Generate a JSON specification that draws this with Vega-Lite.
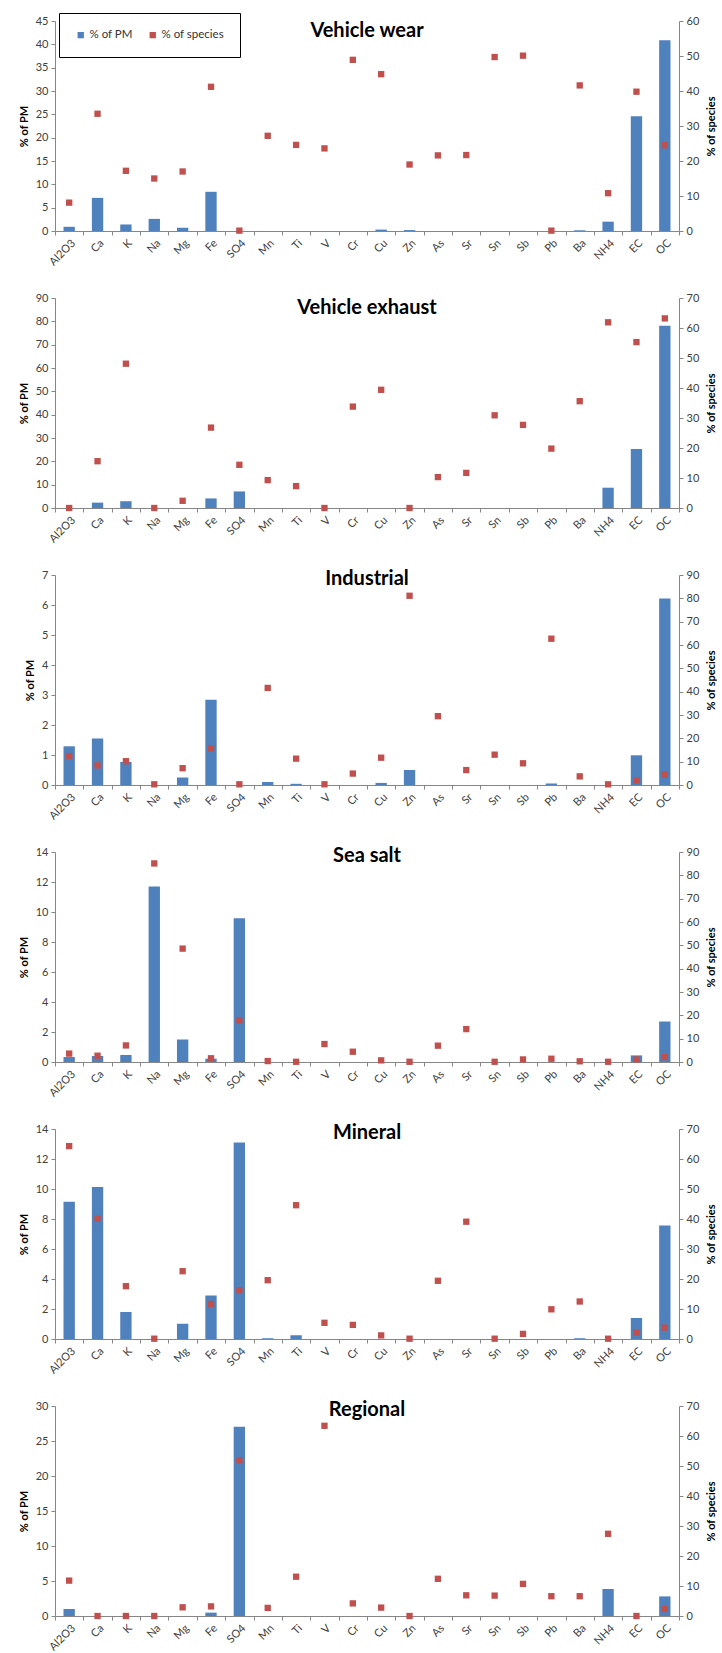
{
  "$schema": "https://vega.github.io/schema/vega-lite/v6.json",
  "background": "white",
  "padding": {"left": 18, "top": 12, "right": 0, "bottom": 0},
  "spacing": 24,
  "datasets": {
    "wear": [
      {"el": "Al2O3", "pm": 0.9, "sp": 8.1}, {"el": "Ca", "pm": 7.1, "sp": 33.5}, {"el": "K", "pm": 1.4, "sp": 17.2},
      {"el": "Na", "pm": 2.6, "sp": 15.0}, {"el": "Mg", "pm": 0.7, "sp": 17.0}, {"el": "Fe", "pm": 8.4, "sp": 41.2},
      {"el": "SO4", "pm": 0, "sp": 0.1}, {"el": "Mn", "pm": 0, "sp": 27.2}, {"el": "Ti", "pm": 0, "sp": 24.6},
      {"el": "V", "pm": 0, "sp": 23.6}, {"el": "Cr", "pm": 0, "sp": 48.9}, {"el": "Cu", "pm": 0.3, "sp": 44.8},
      {"el": "Zn", "pm": 0.2, "sp": 19.0}, {"el": "As", "pm": 0, "sp": 21.6}, {"el": "Sr", "pm": 0, "sp": 21.7},
      {"el": "Sn", "pm": 0, "sp": 49.7}, {"el": "Sb", "pm": 0, "sp": 50.1}, {"el": "Pb", "pm": 0, "sp": 0.1},
      {"el": "Ba", "pm": 0.15, "sp": 41.6}, {"el": "NH4", "pm": 2.0, "sp": 10.8}, {"el": "EC", "pm": 24.6, "sp": 39.8},
      {"el": "OC", "pm": 40.9, "sp": 24.5}
    ],
    "exhaust": [
      {"el": "Al2O3", "pm": 0, "sp": 0}, {"el": "Ca", "pm": 2.3, "sp": 15.6}, {"el": "K", "pm": 2.9, "sp": 48.1},
      {"el": "Na", "pm": 0, "sp": 0}, {"el": "Mg", "pm": 0, "sp": 2.4}, {"el": "Fe", "pm": 4.1, "sp": 26.8},
      {"el": "SO4", "pm": 7.1, "sp": 14.4}, {"el": "Mn", "pm": 0, "sp": 9.3}, {"el": "Ti", "pm": 0, "sp": 7.3},
      {"el": "V", "pm": 0, "sp": 0}, {"el": "Cr", "pm": 0, "sp": 33.8}, {"el": "Cu", "pm": 0, "sp": 39.4},
      {"el": "Zn", "pm": 0, "sp": 0}, {"el": "As", "pm": 0, "sp": 10.3}, {"el": "Sr", "pm": 0, "sp": 11.7},
      {"el": "Sn", "pm": 0, "sp": 30.9}, {"el": "Sb", "pm": 0, "sp": 27.7}, {"el": "Pb", "pm": 0, "sp": 19.8},
      {"el": "Ba", "pm": 0, "sp": 35.6}, {"el": "NH4", "pm": 8.7, "sp": 61.9}, {"el": "EC", "pm": 25.3, "sp": 55.3},
      {"el": "OC", "pm": 78.1, "sp": 63.2}
    ],
    "industrial": [
      {"el": "Al2O3", "pm": 1.29, "sp": 12.4}, {"el": "Ca", "pm": 1.55, "sp": 8.4}, {"el": "K", "pm": 0.77, "sp": 10.2},
      {"el": "Na", "pm": 0, "sp": 0.3}, {"el": "Mg", "pm": 0.25, "sp": 7.2}, {"el": "Fe", "pm": 2.84, "sp": 15.7},
      {"el": "SO4", "pm": 0, "sp": 0.3}, {"el": "Mn", "pm": 0.1, "sp": 41.6}, {"el": "Ti", "pm": 0.04, "sp": 11.3},
      {"el": "V", "pm": 0, "sp": 0.3}, {"el": "Cr", "pm": 0, "sp": 4.9}, {"el": "Cu", "pm": 0.07, "sp": 11.7},
      {"el": "Zn", "pm": 0.5, "sp": 81.1}, {"el": "As", "pm": 0, "sp": 29.5}, {"el": "Sr", "pm": 0, "sp": 6.4},
      {"el": "Sn", "pm": 0, "sp": 13.0}, {"el": "Sb", "pm": 0, "sp": 9.3}, {"el": "Pb", "pm": 0.05, "sp": 62.7},
      {"el": "Ba", "pm": 0, "sp": 3.7}, {"el": "NH4", "pm": 0, "sp": 0.3}, {"el": "EC", "pm": 0.99, "sp": 2.0},
      {"el": "OC", "pm": 6.22, "sp": 4.4}
    ],
    "seasalt": [
      {"el": "Al2O3", "pm": 0.33, "sp": 3.6}, {"el": "Ca", "pm": 0.4, "sp": 2.7}, {"el": "K", "pm": 0.47, "sp": 7.1},
      {"el": "Na", "pm": 11.7, "sp": 85.1}, {"el": "Mg", "pm": 1.5, "sp": 48.6}, {"el": "Fe", "pm": 0.22, "sp": 1.6},
      {"el": "SO4", "pm": 9.58, "sp": 17.9}, {"el": "Mn", "pm": 0, "sp": 0.4}, {"el": "Ti", "pm": 0, "sp": 0.1},
      {"el": "V", "pm": 0, "sp": 7.7}, {"el": "Cr", "pm": 0, "sp": 4.4}, {"el": "Cu", "pm": 0, "sp": 0.7},
      {"el": "Zn", "pm": 0, "sp": 0.1}, {"el": "As", "pm": 0, "sp": 7.0}, {"el": "Sr", "pm": 0, "sp": 14.1},
      {"el": "Sn", "pm": 0, "sp": 0.1}, {"el": "Sb", "pm": 0, "sp": 1.1}, {"el": "Pb", "pm": 0, "sp": 1.4},
      {"el": "Ba", "pm": 0, "sp": 0.3}, {"el": "NH4", "pm": 0, "sp": 0.1}, {"el": "EC", "pm": 0.44, "sp": 1.1},
      {"el": "OC", "pm": 2.7, "sp": 2.1}
    ],
    "mineral": [
      {"el": "Al2O3", "pm": 9.15, "sp": 64.3}, {"el": "Ca", "pm": 10.13, "sp": 40.1}, {"el": "K", "pm": 1.8, "sp": 17.6},
      {"el": "Na", "pm": 0, "sp": 0.1}, {"el": "Mg", "pm": 1.02, "sp": 22.6}, {"el": "Fe", "pm": 2.9, "sp": 11.7},
      {"el": "SO4", "pm": 13.1, "sp": 16.2}, {"el": "Mn", "pm": 0.05, "sp": 19.6}, {"el": "Ti", "pm": 0.25, "sp": 44.6},
      {"el": "V", "pm": 0, "sp": 5.4}, {"el": "Cr", "pm": 0, "sp": 4.7}, {"el": "Cu", "pm": 0, "sp": 1.2},
      {"el": "Zn", "pm": 0, "sp": 0.1}, {"el": "As", "pm": 0, "sp": 19.4}, {"el": "Sr", "pm": 0, "sp": 39.1},
      {"el": "Sn", "pm": 0, "sp": 0.1}, {"el": "Sb", "pm": 0, "sp": 1.7}, {"el": "Pb", "pm": 0, "sp": 9.9},
      {"el": "Ba", "pm": 0.05, "sp": 12.5}, {"el": "NH4", "pm": 0, "sp": 0.1}, {"el": "EC", "pm": 1.4, "sp": 2.1},
      {"el": "OC", "pm": 7.57, "sp": 3.8}
    ],
    "regional": [
      {"el": "Al2O3", "pm": 1.0, "sp": 11.8}, {"el": "Ca", "pm": 0, "sp": 0}, {"el": "K", "pm": 0, "sp": 0},
      {"el": "Na", "pm": 0, "sp": 0}, {"el": "Mg", "pm": 0, "sp": 2.9}, {"el": "Fe", "pm": 0.48, "sp": 3.2},
      {"el": "SO4", "pm": 27.05, "sp": 51.9}, {"el": "Mn", "pm": 0, "sp": 2.7}, {"el": "Ti", "pm": 0, "sp": 13.1},
      {"el": "V", "pm": 0, "sp": 63.4}, {"el": "Cr", "pm": 0, "sp": 4.2}, {"el": "Cu", "pm": 0, "sp": 2.8},
      {"el": "Zn", "pm": 0, "sp": 0}, {"el": "As", "pm": 0, "sp": 12.4}, {"el": "Sr", "pm": 0, "sp": 6.9},
      {"el": "Sn", "pm": 0, "sp": 6.8}, {"el": "Sb", "pm": 0, "sp": 10.7}, {"el": "Pb", "pm": 0, "sp": 6.6},
      {"el": "Ba", "pm": 0, "sp": 6.6}, {"el": "NH4", "pm": 3.86, "sp": 27.4}, {"el": "EC", "pm": 0, "sp": 0},
      {"el": "OC", "pm": 2.8, "sp": 2.3}
    ]
  },
  "vconcat": [
    {
      "width": 624, "height": 210,
      "data": {"name": "wear"},
      "title": {"text": "Vehicle wear", "offset": -28},
      "encoding": {"x": {"field": "el", "type": "nominal", "sort": null, "scale": {"paddingInner": 0, "paddingOuter": 0}, "axis": {"title": null}}},
      "layer": [
        {"mark": {"type": "bar", "width": {"band": 0.4}},
         "encoding": {
           "y": {"field": "pm", "type": "quantitative", "scale": {"domain": [0, 45], "nice": false}, "axis": {"title": "% of PM", "values": [0, 5, 10, 15, 20, 25, 30, 35, 40, 45]}},
           "color": {"datum": "% of PM", "scale": {"domain": ["% of PM", "% of species"], "range": ["#4F81BD", "#C0504D"]},
             "legend": {"title": null, "titleOrient": "top", "orient": "none", "legendX": 4, "legendY": -8, "direction": "horizontal", "symbolType": "square", "symbolSize": 40, "labelFontSize": 11.5, "padding": 16, "strokeColor": "#000", "fillColor": "white", "columnPadding": 14, "labelOffset": 3, "labelColor": "#333"}}
         }},
        {"mark": {"type": "point", "shape": "square", "filled": true, "size": 40, "opacity": 1},
         "encoding": {
           "y": {"field": "sp", "type": "quantitative", "scale": {"domain": [0, 60], "nice": false}, "axis": {"orient": "right", "title": "% of species", "values": [0, 10, 20, 30, 40, 50, 60]}},
           "color": {"datum": "% of species", "scale": {"domain": ["% of PM", "% of species"], "range": ["#4F81BD", "#C0504D"]}, "legend": null}
         }}
      ],
      "resolve": {"scale": {"y": "independent"}}
    },
    {
      "width": 624, "height": 210,
      "data": {"name": "exhaust"},
      "title": {"text": "Vehicle exhaust", "offset": -26},
      "encoding": {"x": {"field": "el", "type": "nominal", "sort": null, "scale": {"paddingInner": 0, "paddingOuter": 0}, "axis": {"title": null}}},
      "layer": [
        {"mark": {"type": "bar", "width": {"band": 0.4}, "color": "#4F81BD"},
         "encoding": {"y": {"field": "pm", "type": "quantitative", "scale": {"domain": [0, 90], "nice": false}, "axis": {"title": "% of PM", "values": [0, 10, 20, 30, 40, 50, 60, 70, 80, 90]}}}},
        {"mark": {"type": "point", "shape": "square", "filled": true, "size": 40, "opacity": 1, "color": "#C0504D"},
         "encoding": {"y": {"field": "sp", "type": "quantitative", "scale": {"domain": [0, 70], "nice": false}, "axis": {"orient": "right", "title": "% of species", "values": [0, 10, 20, 30, 40, 50, 60, 70]}}}}
      ],
      "resolve": {"scale": {"y": "independent"}}
    },
    {
      "width": 624, "height": 210,
      "data": {"name": "industrial"},
      "title": {"text": "Industrial", "offset": -20},
      "encoding": {"x": {"field": "el", "type": "nominal", "sort": null, "scale": {"paddingInner": 0, "paddingOuter": 0}, "axis": {"title": null}}},
      "layer": [
        {"mark": {"type": "bar", "width": {"band": 0.4}, "color": "#4F81BD"},
         "encoding": {"y": {"field": "pm", "type": "quantitative", "scale": {"domain": [0, 7], "nice": false}, "axis": {"title": "% of PM", "values": [0, 1, 2, 3, 4, 5, 6, 7]}}}},
        {"mark": {"type": "point", "shape": "square", "filled": true, "size": 40, "opacity": 1, "color": "#C0504D"},
         "encoding": {"y": {"field": "sp", "type": "quantitative", "scale": {"domain": [0, 90], "nice": false}, "axis": {"orient": "right", "title": "% of species", "values": [0, 10, 20, 30, 40, 50, 60, 70, 80, 90]}}}}
      ],
      "resolve": {"scale": {"y": "independent"}}
    },
    {
      "width": 624, "height": 210,
      "data": {"name": "seasalt"},
      "title": {"text": "Sea salt", "offset": -20},
      "encoding": {"x": {"field": "el", "type": "nominal", "sort": null, "scale": {"paddingInner": 0, "paddingOuter": 0}, "axis": {"title": null}}},
      "layer": [
        {"mark": {"type": "bar", "width": {"band": 0.4}, "color": "#4F81BD"},
         "encoding": {"y": {"field": "pm", "type": "quantitative", "scale": {"domain": [0, 14], "nice": false}, "axis": {"title": "% of PM", "values": [0, 2, 4, 6, 8, 10, 12, 14]}}}},
        {"mark": {"type": "point", "shape": "square", "filled": true, "size": 40, "opacity": 1, "color": "#C0504D"},
         "encoding": {"y": {"field": "sp", "type": "quantitative", "scale": {"domain": [0, 90], "nice": false}, "axis": {"orient": "right", "title": "% of species", "values": [0, 10, 20, 30, 40, 50, 60, 70, 80, 90]}}}}
      ],
      "resolve": {"scale": {"y": "independent"}}
    },
    {
      "width": 624, "height": 210,
      "data": {"name": "mineral"},
      "title": {"text": "Mineral", "offset": -20},
      "encoding": {"x": {"field": "el", "type": "nominal", "sort": null, "scale": {"paddingInner": 0, "paddingOuter": 0}, "axis": {"title": null}}},
      "layer": [
        {"mark": {"type": "bar", "width": {"band": 0.4}, "color": "#4F81BD"},
         "encoding": {"y": {"field": "pm", "type": "quantitative", "scale": {"domain": [0, 14], "nice": false}, "axis": {"title": "% of PM", "values": [0, 2, 4, 6, 8, 10, 12, 14]}}}},
        {"mark": {"type": "point", "shape": "square", "filled": true, "size": 40, "opacity": 1, "color": "#C0504D"},
         "encoding": {"y": {"field": "sp", "type": "quantitative", "scale": {"domain": [0, 70], "nice": false}, "axis": {"orient": "right", "title": "% of species", "values": [0, 10, 20, 30, 40, 50, 60, 70]}}}}
      ],
      "resolve": {"scale": {"y": "independent"}}
    },
    {
      "width": 624, "height": 210,
      "data": {"name": "regional"},
      "title": {"text": "Regional", "offset": -20},
      "encoding": {"x": {"field": "el", "type": "nominal", "sort": null, "scale": {"paddingInner": 0, "paddingOuter": 0}, "axis": {"title": null}}},
      "layer": [
        {"mark": {"type": "bar", "width": {"band": 0.4}, "color": "#4F81BD"},
         "encoding": {"y": {"field": "pm", "type": "quantitative", "scale": {"domain": [0, 30], "nice": false}, "axis": {"title": "% of PM", "values": [0, 5, 10, 15, 20, 25, 30]}}}},
        {"mark": {"type": "point", "shape": "square", "filled": true, "size": 40, "opacity": 1, "color": "#C0504D"},
         "encoding": {"y": {"field": "sp", "type": "quantitative", "scale": {"domain": [0, 70], "nice": false}, "axis": {"orient": "right", "title": "% of species", "values": [0, 10, 20, 30, 40, 50, 60, 70]}}}}
      ],
      "resolve": {"scale": {"y": "independent"}}
    }
  ],
  "resolve": {"scale": {"color": "independent"}, "legend": {"color": "independent"}},
  "config": {
    "font": "Lato",
    "view": {"stroke": null},
    "title": {"fontSize": 20, "fontWeight": "bold", "color": "#000", "anchor": "middle", "baseline": "middle", "font": "Lato"},
    "axis": {"grid": false, "domainColor": "#868686", "tickColor": "#868686", "labelColor": "#404040", "labelFontSize": 11, "titleFontSize": 11, "titleFontWeight": "bold", "titleColor": "#000", "tickSize": 4, "labelPadding": 3, "titlePadding": 6},
    "axisX": {"labelAngle": -45, "tickBand": "extent", "labelPadding": 2},
    "axisRight": {"titleAngle": 270, "titleBaseline": "top", "titlePadding": 7}
  }
}
